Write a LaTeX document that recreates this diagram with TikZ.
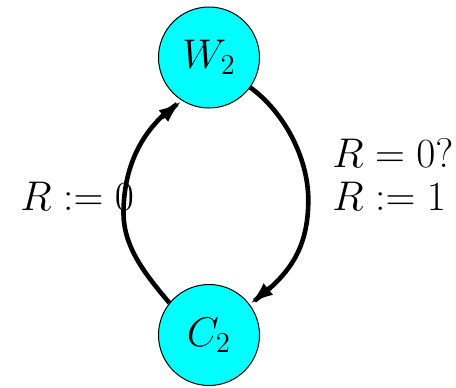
\documentclass[tikz,border=0pt]{standalone}
\usetikzlibrary{arrows.meta}
\definecolor{aqua}{RGB}{0,255,255}
\begin{document}
\begin{tikzpicture}[x=0.5pt,y=0.5pt,
  state/.style={circle,draw=black,line width=0.5pt,fill=aqua,minimum size=50.5pt,inner sep=0pt,font=\fontsize{20}{24}\selectfont},
  edge/.style={line width=2.3pt},
  tip/.style={line width=2.3pt,-{Latex[length=12pt,width=7.5pt]}},
  lbl/.style={anchor=base west,inner sep=0pt,font=\fontsize{20}{24}\selectfont}]
\useasboundingbox (0,0) rectangle (456,387);
\node[state] (W) at (209,329.5) {$W_2$};
\node[state] (C) at (209,52) {$C_2$};
\coordinate (lm) at (123.5,174);
\coordinate (rm) at (308.3,187);
\draw[edge,shorten >=3pt] (C.141) .. controls +(130:35) and +(-90:35) .. (lm)
  .. controls +(90:50) and +(214.7:45) .. (W.238) coordinate[pos=0.8] (la);
\draw[tip] (la) -- (W.238);
\draw[edge,shorten >=3pt] (W.-36) .. controls +(-36:42) and +(90:42) .. (rm)
  .. controls +(-90:50) and +(37:48) .. (C.37) coordinate[pos=0.8] (ra);
\draw[tip] (ra) -- (C.37);
\node[lbl] (l1) at (20,177) {$R := 0$};
\node[lbl] (l2) at (332,220) {$R = 0?$};
\node[lbl] (l3) at (332,177) {$R := 1$};
\end{tikzpicture}
\end{document}
